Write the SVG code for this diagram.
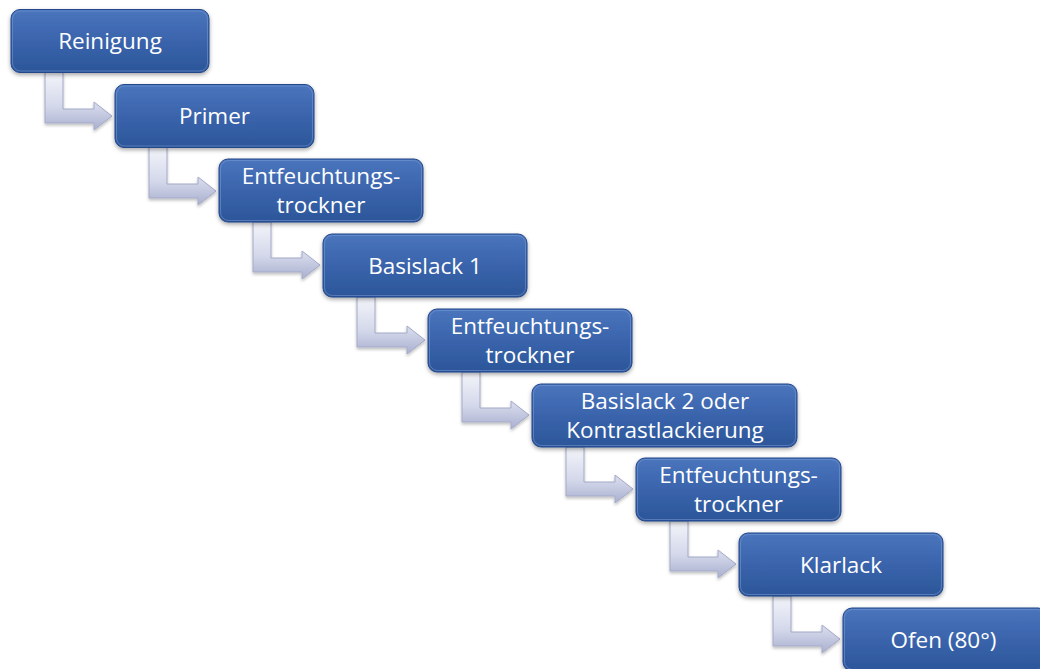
<svg xmlns="http://www.w3.org/2000/svg" width="1040" height="669" viewBox="0 0 1040 669">
<defs>
  <linearGradient id="boxGrad" x1="0" y1="0" x2="0" y2="1">
    <stop offset="0" stop-color="#4a75bd"/>
    <stop offset="0.5" stop-color="#3a64ac"/>
    <stop offset="1" stop-color="#2c5699"/>
  </linearGradient>
  <linearGradient id="arrGrad" x1="0" y1="0" x2="0" y2="1">
    <stop offset="0" stop-color="#f4f5fa"/>
    <stop offset="0.6" stop-color="#d3d7ea"/>
    <stop offset="1" stop-color="#a9b0cf"/>
  </linearGradient>
  <filter id="shadow" x="-10%" y="-20%" width="120%" height="150%">
    <feDropShadow dx="0" dy="2" stdDeviation="2" flood-color="#000" flood-opacity="0.35"/>
  </filter>
  <filter id="ashadow" x="-20%" y="-20%" width="140%" height="150%">
    <feDropShadow dx="0" dy="2" stdDeviation="1.5" flood-color="#000" flood-opacity="0.25"/>
  </filter>
</defs>
<style>
  .box { fill: url(#boxGrad); stroke: #24478a; stroke-width: 1; filter: url(#shadow); }
  .hl { fill: none; stroke: #7e9fd6; stroke-opacity: 0.5; stroke-width: 1; }
  .lbl { font-family: "Open Sans", "Liberation Sans", sans-serif; font-size: 22.5px; fill: #ffffff; text-anchor: middle; }
  .arr { fill: url(#arrGrad); stroke: #a3a9c8; stroke-width: 1; filter: url(#ashadow); }
</style>
<rect width="1040" height="669" fill="#ffffff"/>
<g id="connectors">
  <path class="arr" d="M45,72 L63,72 L63,109 L94,109 L94,102 L112,116 L94,130 L94,123 L45,123 Z"/>
  <path class="arr" d="M149,147 L167,147 L167,184 L198,184 L198,177 L216,191 L198,205 L198,198 L149,198 Z"/>
  <path class="arr" d="M253,222 L271,222 L271,258 L302,258 L302,251 L320,265 L302,279 L302,272 L253,272 Z"/>
  <path class="arr" d="M357,297 L375,297 L375,333 L407,333 L407,326 L425,340 L407,354 L407,347 L357,347 Z"/>
  <path class="arr" d="M462,372 L480,372 L480,408 L511,408 L511,401 L529,415 L511,429 L511,422 L462,422 Z"/>
  <path class="arr" d="M566,447 L584,447 L584,482 L615,482 L615,475 L633,489 L615,503 L615,496 L566,496 Z"/>
  <path class="arr" d="M670,521 L688,521 L688,557 L718,557 L718,550 L736,564 L718,578 L718,571 L670,571 Z"/>
  <path class="arr" d="M773,596 L791,596 L791,632 L822,632 L822,625 L840,639 L822,653 L822,646 L773,646 Z"/>
</g>
<g id="n1">
  <rect class="box" x="11" y="9.5" width="198" height="63" rx="9"/>
  <rect class="hl" x="12.5" y="11" width="195" height="60" rx="8"/>
  <text class="lbl" x="110" y="49">Reinigung</text>
</g>
<g id="n2">
  <rect class="box" x="115" y="84.5" width="199" height="63" rx="9"/>
  <rect class="hl" x="116.5" y="86" width="196" height="60" rx="8"/>
  <text class="lbl" x="214.5" y="124">Primer</text>
</g>
<g id="n3">
  <rect class="box" x="219" y="159" width="204" height="63" rx="9"/>
  <rect class="hl" x="220.5" y="160.5" width="201" height="60" rx="8"/>
  <text class="lbl" x="321" y="183.5">Entfeuchtungs-</text>
  <text class="lbl" x="321" y="212.5">trockner</text>
</g>
<g id="n4">
  <rect class="box" x="323" y="234" width="204" height="63" rx="9"/>
  <rect class="hl" x="324.5" y="235.5" width="201" height="60" rx="8"/>
  <text class="lbl" x="425" y="273.5">Basislack 1</text>
</g>
<g id="n5">
  <rect class="box" x="428" y="309" width="204" height="63" rx="9"/>
  <rect class="hl" x="429.5" y="310.5" width="201" height="60" rx="8"/>
  <text class="lbl" x="530" y="333.5">Entfeuchtungs-</text>
  <text class="lbl" x="530" y="362.5">trockner</text>
</g>
<g id="n6">
  <rect class="box" x="532" y="384" width="265" height="63" rx="9"/>
  <rect class="hl" x="533.5" y="385.5" width="262" height="60" rx="8"/>
  <text class="lbl" x="665" y="408.5">Basislack 2 oder</text>
  <text class="lbl" x="665" y="437.5">Kontrastlackierung</text>
</g>
<g id="n7">
  <rect class="box" x="636" y="458" width="205" height="63" rx="9"/>
  <rect class="hl" x="637.5" y="459.5" width="202" height="60" rx="8"/>
  <text class="lbl" x="738.5" y="482.5">Entfeuchtungs-</text>
  <text class="lbl" x="738.5" y="511.5">trockner</text>
</g>
<g id="n8">
  <rect class="box" x="739" y="533" width="204" height="63" rx="9"/>
  <rect class="hl" x="740.5" y="534.5" width="201" height="60" rx="8"/>
  <text class="lbl" x="841" y="572.5">Klarlack</text>
</g>
<g id="n9">
  <rect class="box" x="843" y="608" width="204" height="63" rx="9"/>
  <rect class="hl" x="844.5" y="609.5" width="201" height="60" rx="8"/>
  <text class="lbl" x="943.5" y="647.5">Ofen (80°)</text>
</g>
</svg>
